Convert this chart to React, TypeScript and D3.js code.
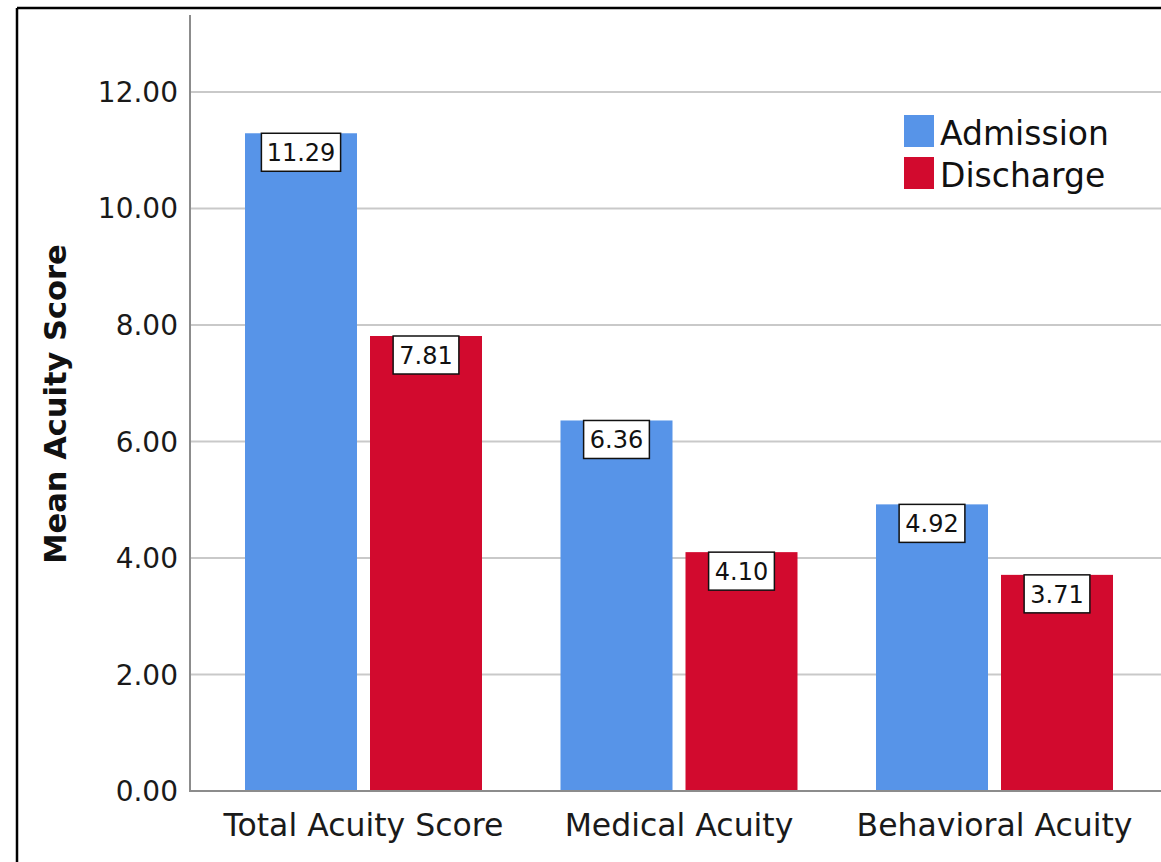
import React from "react";
import * as d3 from "d3";

const categories = ["Total Acuity Score", "Medical Acuity", "Behavioral Acuity"];
const seriesNames = ["Admission", "Discharge"];
const admission = [11.29, 6.36, 4.92];
const discharge = [7.81, 4.1, 3.71];
const yTicks = [0, 2, 4, 6, 8, 10, 12];
const colors = ["#5794E8", "#D20A2E"];

const W = 1161;
const H = 862;
const FONT = "'DejaVu Sans', 'Liberation Sans', sans-serif";

export default function App() {
  const y = d3.scaleLinear().domain([0, 13.32]).range([791, 15]);
  const x0 = d3
    .scaleBand<string>()
    .domain(categories)
    .range([205.75, 1152.25])
    .paddingInner(0.2488)
    .paddingOuter(0.1244);
  const x1 = d3
    .scaleBand<string>()
    .domain(seriesNames)
    .range([0, x0.bandwidth()])
    .paddingInner(0.104);
  const values = [admission, discharge];
  const fmt = d3.format(".2f");

  const bars: any[] = [];
  categories.forEach((c, ci) => {
    seriesNames.forEach((s, si) => {
      const v = values[si][ci];
      bars.push({ c, s, v, si, x: (x0(c) as number) + (x1(s) as number), y: y(v) });
    });
  });

  const labelFont = 24;
  const charW = (t: string) => t.length * 0.56 * labelFont;

  return (
    <svg
      width={W}
      height={H}
      style={{ position: "absolute", left: 0, top: 0, background: "#fff" }}
      fontFamily={FONT}
    >
      <rect x={0} y={0} width={W} height={H} fill="#fff" />
      {/* frame */}
      <line x1={17} y1={8} x2={W} y2={8} stroke="#000" strokeWidth={2.5} />
      <line x1={17} y1={8} x2={17} y2={H} stroke="#000" strokeWidth={2.5} />

      {/* grid */}
      {yTicks
        .filter((t) => t > 0)
        .map((t) => (
          <line key={t} x1={190} x2={W} y1={y(t)} y2={y(t)} stroke="#C9C9C9" strokeWidth={2} />
        ))}

      {/* bars */}
      {bars.map((b, i) => (
        <rect
          key={i}
          x={b.x}
          y={b.y}
          width={x1.bandwidth()}
          height={y(0) - b.y}
          fill={colors[b.si]}
        />
      ))}

      {/* axes */}
      <line x1={190} x2={190} y1={15} y2={y(0)} stroke="#8C8C8C" strokeWidth={2} />
      <line x1={189} x2={W} y1={y(0)} y2={y(0)} stroke="#8C8C8C" strokeWidth={2} />

      {/* y ticks */}
      {yTicks.map((t) => (
        <text
          key={t}
          x={178}
          y={y(t)}
          dy="0.36em"
          textAnchor="end"
          fontSize={28}
          fill="#1a1a1a"
        >
          {fmt(t)}
        </text>
      ))}

      {/* x labels */}
      {categories.map((c) => (
        <text
          key={c}
          x={(x0(c) as number) + x0.bandwidth() / 2}
          y={836}
          textAnchor="middle"
          fontSize={31.5}
          fill="#1a1a1a"
        >
          {c}
        </text>
      ))}

      {/* y title */}
      <text
        transform={`translate(66, 404) rotate(-90)`}
        textAnchor="middle"
        fontSize={30.5}
        fontWeight="bold"
        fill="#111"
      >
        Mean Acuity Score
      </text>

      {/* value labels */}
      {bars.map((b, i) => {
        const t = fmt(b.v);
        const tw = charW(t);
        const bw = tw + 12;
        const cx = b.x + x1.bandwidth() / 2;
        return (
          <g key={"l" + i}>
            <rect
              x={cx - bw / 2}
              y={b.y}
              width={bw}
              height={38}
              fill="#fff"
              stroke="#111"
              strokeWidth={1.5}
            />
            <text x={cx} y={b.y + 19} dy="0.37em" textAnchor="middle" fontSize={labelFont} fill="#111">
              {t}
            </text>
          </g>
        );
      })}

      {/* legend */}
      {seriesNames.map((s, i) => (
        <g key={s} transform={`translate(904, ${115 + i * 42})`}>
          <rect x={0} y={0} width={30} height={32} fill={colors[i]} />
          <text x={36} y={30} fontSize={33} fill="#111">
            {s}
          </text>
        </g>
      ))}
    </svg>
  );
}
